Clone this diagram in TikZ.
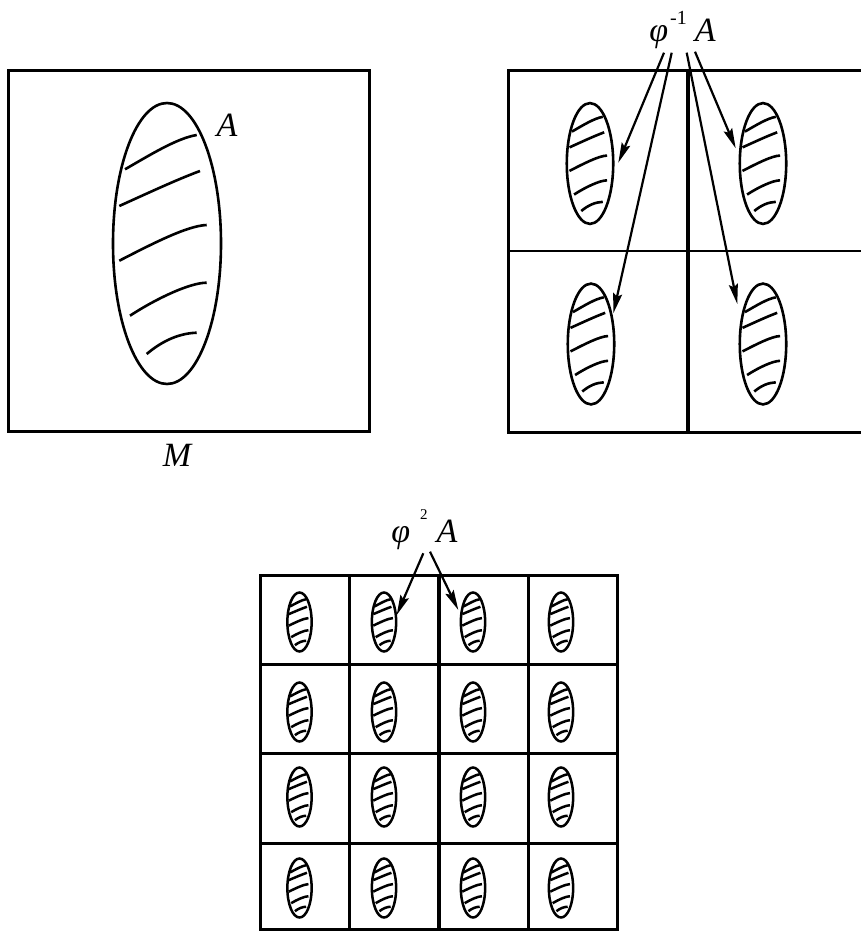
\documentclass[tikz,border=0pt]{standalone}
\usepackage{fontspec}
\setmainfont{Liberation Serif}
\usetikzlibrary{arrows.meta}
\begin{document}
\begin{tikzpicture}[x=0.5pt,y=-0.5pt,
  frame/.style={line width=1.5pt},
  arr/.style={line width=1.1pt,-{Stealth[length=10pt,width=4.5pt,inset=1.5pt]}},
  lab/.style={font=\fontsize{17}{19}\selectfont\itshape, inner sep=0pt},
  blob/.pic={
    \draw (0,0) ellipse (54 and 140.5);
    \draw (-42,-74.2) .. controls (-17,-88.5) and (9.7,-105.2) .. (29.7,-108.5);
    \draw (-47.7,-37.5) .. controls (-20,-50) and (10,-64) .. (33,-72.5);
    \draw (-47.7,17.2) .. controls (-17,1.5) and (19.7,-17.8) .. (39.7,-18.5);
    \draw (-37,72.2) .. controls (-10.3,54.8) and (23,39.2) .. (39.7,39.2);
    \draw (-20.3,110.5) .. controls (-3.7,96.5) and (13,89.8) .. (29.7,89.2);
  }]
\useasboundingbox (0,0) rectangle (861,931);

% Panel 1
\draw[frame] (8,71) rectangle (369,431);
\pic[line width=1.3pt] at (167,243.5) {blob};
\node[lab] (A) at (227,125) {A};
\node[lab] (M) at (177,455) {M};

% Panel 2
\draw[frame] (861,71) -- (508,71) -- (508,432) -- (861,432);
\draw[line width=1.7pt] (688,71) -- (688,432);
\draw[line width=1.2pt] (508,251) -- (861,251);
\pic[line width=1.3pt,scale=.43] at (590,163.5) {blob};
\pic[line width=1.3pt,scale=.43] at (763,163.5) {blob};
\pic[line width=1.3pt,scale=.43] at (591,344) {blob};
\pic[line width=1.3pt,scale=.43] at (763,344) {blob};
\node[lab,anchor=base west] (P1) at (649,42) {φ\kern1pt\raisebox{8.5pt}{\fontsize{10}{10}\selectfont\upshape -1}\kern4pt A};
\coordinate (s1) at (664,52.7);   \coordinate (e1) at (618.3,162.7);
\coordinate (s2) at (671.7,52.7); \coordinate (e2) at (613.3,313.3);
\coordinate (s3) at (686.7,52.7); \coordinate (e3) at (737.3,304);
\coordinate (s4) at (695,51.7);   \coordinate (e4) at (735.7,148.3);
\draw[arr] (s1) -- (e1);
\draw[arr] (s2) -- (e2);
\draw[arr] (s3) -- (e3);
\draw[arr] (s4) -- (e4);

% Panel 3
\draw[frame] (260,575) rectangle (617,929);
\foreach \x in {349,528} \draw[frame] (\x,575) -- (\x,929);
\draw[line width=2pt] (439,575) -- (439,929);
\foreach \y in {664,753,843} \draw[frame] (260,\y) -- (617,\y);
\foreach \x in {299.5,384,473,561}
  \foreach \y in {622,712,797,888}
    \pic[line width=1.25pt,xscale=.225,yscale=.21] at (\x,\y) {blob};
\node[lab,anchor=base west] (P2) at (391,542) {φ\kern5pt\raisebox{11.5pt}{\fontsize{7.5}{8}\selectfont\upshape 2}\kern4.5pt A};
\coordinate (t1) at (423.3,553.3); \coordinate (f1) at (396.7,615);
\coordinate (t2) at (430,551.7);   \coordinate (f2) at (458.3,610);
\draw[arr] (t1) -- (f1);
\draw[arr] (t2) -- (f2);
\end{tikzpicture}
\end{document}
